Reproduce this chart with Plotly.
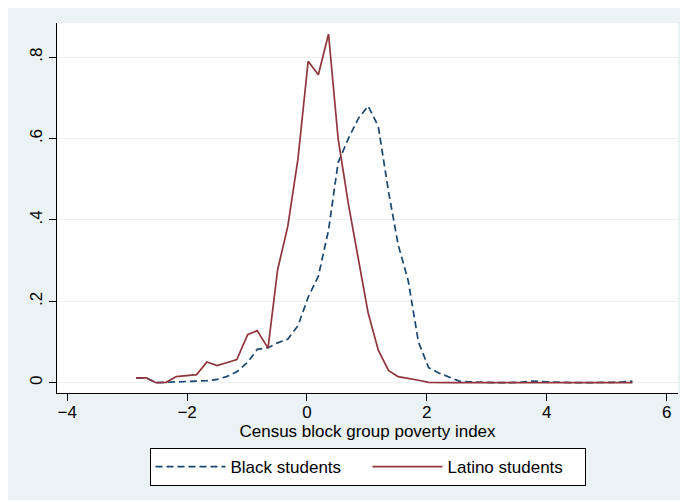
import plotly.graph_objects as go

# Census block group poverty index (bin positions)
pov_x = [-2.85, -2.68, -2.52, -2.35, -2.18, -2.01, -1.84, -1.67, -1.50, -1.34,
         -1.17, -0.99, -0.83, -0.65, -0.49, -0.32, -0.15, 0.02, 0.19, 0.36,
         0.52, 0.69, 0.86, 1.02, 1.19, 1.36, 1.52, 1.69, 1.86, 2.03,
         2.20, 2.37, 2.54, 2.71, 2.88, 3.05, 3.22, 3.39, 3.56, 3.73,
         3.90, 4.07, 4.24, 4.41, 4.58, 4.75, 4.92, 5.09, 5.26, 5.43]

black_y = [0.012, 0.012, 0.000, 0.001, 0.002, 0.003, 0.004, 0.005, 0.008, 0.015,
           0.027, 0.050, 0.082, 0.086, 0.098, 0.107, 0.140, 0.210, 0.262, 0.375,
           0.541, 0.600, 0.650, 0.680, 0.630, 0.470, 0.340, 0.250, 0.100, 0.037,
           0.024, 0.014, 0.004, 0.002, 0.001, 0.000, 0.000, 0.000, 0.001, 0.004,
           0.003, 0.001, 0.000, 0.000, 0.000, 0.000, 0.000, 0.001, 0.002, 0.004]

latino_y = [0.012, 0.012, 0.000, 0.001, 0.015, 0.018, 0.020, 0.051, 0.042, 0.049,
            0.057, 0.118, 0.128, 0.085, 0.277, 0.384, 0.550, 0.790, 0.757, 0.857,
            0.600, 0.440, 0.300, 0.172, 0.080, 0.030, 0.015, 0.011, 0.006, 0.001,
            0.000, 0.000, 0.000, 0.000, 0.000, 0.000, 0.000, 0.000, 0.000, 0.000,
            0.000, 0.000, 0.000, 0.000, 0.000, 0.000, 0.000, 0.000, 0.000, 0.000]

x_ticks = [-4, -2, 0, 2, 4, 6]
y_ticks = [0, 0.2, 0.4, 0.6, 0.8]
y_tick_text = ["0", ".2", ".4", ".6", ".8"]

FONT = "Liberation Sans, Arial, sans-serif"
BG = "#eaf2f3"

fig = go.Figure()
fig.add_trace(go.Scatter(x=pov_x, y=black_y, mode="lines", name="Black students",
                         line=dict(color="#1a476f", width=1.7, dash="7px,4px")))
fig.add_trace(go.Scatter(x=pov_x, y=latino_y, mode="lines", name="Latino students",
                         line=dict(color="#90353b", width=1.7)))

# page body has an 8px default margin; the figure is sized to fit the 688x502 window
OFF = 8
W, H = 688 - OFF, 502 - OFF
L, R, T, B = 57 - OFF, 10, 23 - OFF, 109
pw, ph = W - L - R, H - T - B


def px_x(p):
    return (p - OFF - L) / pw


def px_y(p):
    return (H - B - (p - OFF)) / ph


fig.update_layout(
    width=W, height=H, autosize=False,
    margin=dict(l=L, r=R, t=T, b=B, pad=0),
    paper_bgcolor="white", plot_bgcolor="white",
    font=dict(family=FONT, size=17, color="black"),
    showlegend=True,
    legend=dict(orientation="h", x=0.5, xanchor="center", y=px_y(448), yanchor="top",
                bgcolor="white", bordercolor="black", borderwidth=1,
                font=dict(family=FONT, size=17, color="black"),
                itemwidth=70, entrywidth=132, tracegroupgap=0),
    shapes=[
        dict(type="rect", xref="paper", yref="paper", layer="below",
             x0=px_x(6), x1=px_x(685), y0=px_y(500), y1=px_y(6),
             fillcolor=BG, line=dict(width=0)),
        dict(type="rect", xref="paper", yref="paper", layer="below",
             x0=0, x1=1, y0=0, y1=1, fillcolor="white", line=dict(width=0)),
    ],
    xaxis=dict(range=[-4.17, 6.19], tickvals=x_ticks, ticks="outside", ticklen=7,
               tickcolor="black", showline=True, linecolor="black", linewidth=1,
               showgrid=False, zeroline=False, ticklabelstandoff=-3,
               title=dict(text="Census block group poverty index", standoff=3,
                          font=dict(family=FONT, size=17)),
               tickfont=dict(family=FONT, size=17)),
    yaxis=dict(range=[-0.0253, 0.884], tickvals=y_ticks, ticktext=y_tick_text,
               tickangle=-90, ticks="outside", ticklen=7, tickcolor="black",
               showline=True, linecolor="black", linewidth=1,
               showgrid=True, gridcolor=BG, gridwidth=1, zeroline=False,
               tickfont=dict(family=FONT, size=17)),
)

fig.write_html("out.html")
